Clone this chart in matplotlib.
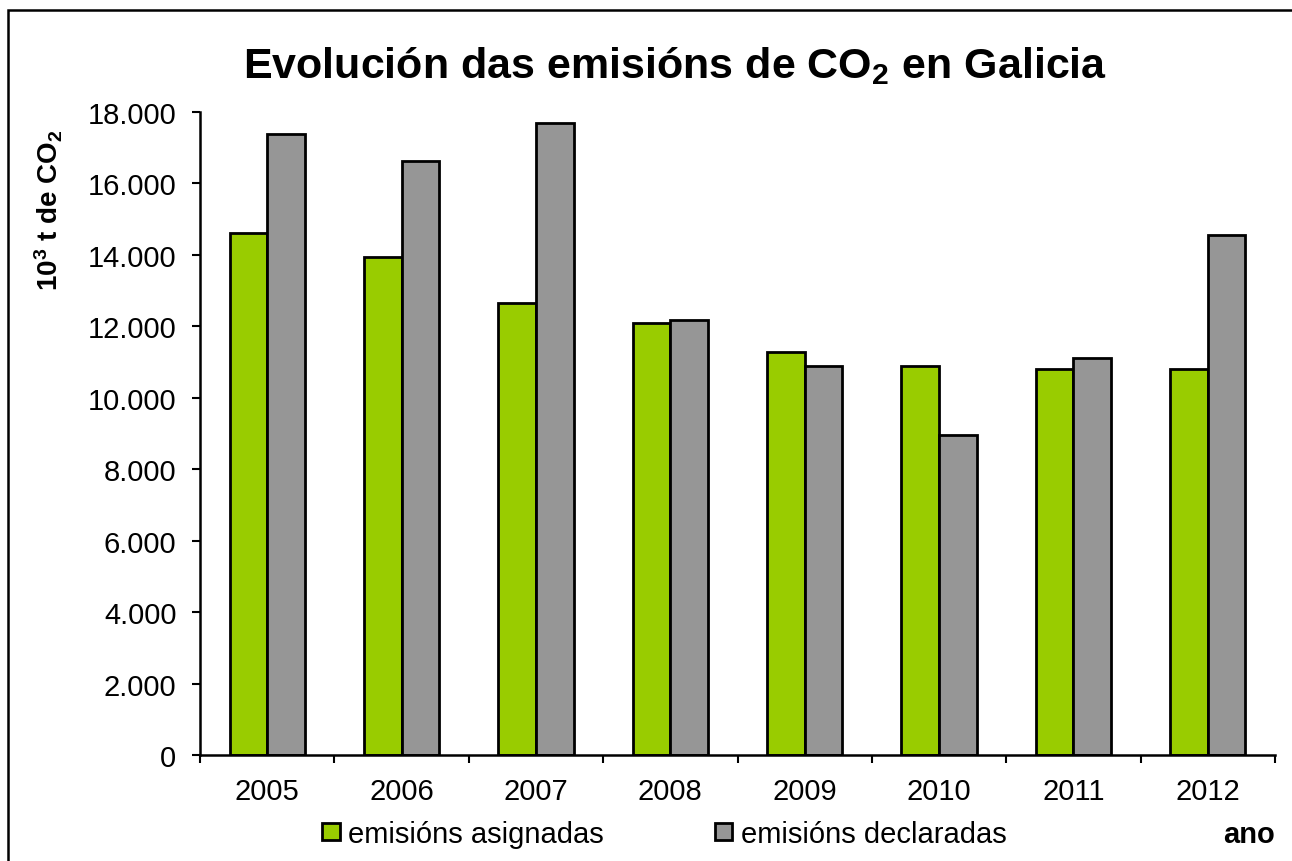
import numpy as np
import matplotlib
matplotlib.use("Agg")
import matplotlib.pyplot as plt
from matplotlib.patches import Rectangle
from matplotlib.ticker import FuncFormatter

# Datos
anos = ['2005', '2006', '2007', '2008', '2009', '2010', '2011', '2012']
asignadas = [14600, 13940, 12640, 12090, 11270, 10890, 10800, 10800]
declaradas = [17380, 16630, 17680, 12170, 10890, 8960, 11120, 14550]

verde = '#99CC00'
gris = '#969696'

plt.rcParams['font.family'] = ['Liberation Sans', 'DejaVu Sans']
plt.rcParams['mathtext.fontset'] = 'custom'
plt.rcParams['mathtext.rm'] = 'Liberation Sans'
plt.rcParams['mathtext.bf'] = 'Liberation Sans:bold'

fig = plt.figure(figsize=(12.92, 8.62), dpi=100)
ax = fig.add_axes([200 / 1292, 106 / 862, 1075 / 1292, 643 / 862])

x = np.arange(len(anos))
w = 0.28
b1 = ax.bar(x - w / 2, asignadas, w, color=verde, edgecolor='black', linewidth=2,
            label='emisións asignadas')
b2 = ax.bar(x + w / 2, declaradas, w, color=gris, edgecolor='black', linewidth=2,
            label='emisións declaradas')

ax.set_xlim(-0.5, len(anos) - 0.5)
ax.set_ylim(0, 18000)
ax.set_yticks(np.arange(0, 18001, 2000))
ax.yaxis.set_major_formatter(FuncFormatter(lambda v, p: f'{int(v):,}'.replace(',', '.')))
ax.set_xticks(np.arange(-0.5, len(anos), 1.0))
ax.set_xticklabels([])
ax.set_xticks(x, minor=True)
ax.set_xticklabels(anos, minor=True)
ax.tick_params(axis='x', which='minor', length=0, labelsize=21, pad=16)
ax.tick_params(axis='x', which='major', length=6, width=1.5, direction='out')
ax.tick_params(axis='y', length=6, width=1.5, direction='out', labelsize=21, pad=11)

for s in ['top', 'right']:
    ax.spines[s].set_visible(False)
for s in ['left', 'bottom']:
    ax.spines[s].set_linewidth(1.8)

fig.text(675 / 1292, 1 - 66 / 862, r'Evolución das emisións de CO$_\mathbf{2}$ en Galicia',
         ha='center', va='center', fontsize=31, fontweight='bold')
fig.text(49 / 1292, 1 - 210 / 862, r'$\mathbf{10^3}$ t de CO$_\mathbf{2}$',
         rotation=90, ha='center', va='center', fontsize=20, fontweight='bold')

fig.legend(handles=[b1, b2], loc='center left', bbox_to_anchor=(322 / 1292, 1 - 835 / 862),
           ncol=2, frameon=False, fontsize=21, handlelength=0.6, handleheight=0.55,
           handletextpad=0.3, columnspacing=3.8, borderaxespad=0, borderpad=0)
fig.text(1275 / 1292, 1 - 835 / 862, 'ano', ha='right', va='center',
         fontsize=21, fontweight='bold')

# marco da figura
fig.patches.append(Rectangle((8 / 1292, -0.1), 1.2, 1.1 - 11 / 862,
                             transform=fig.transFigure, fill=False,
                             edgecolor='black', linewidth=1.8, clip_on=False))

fig.savefig('out.png', dpi=100)
